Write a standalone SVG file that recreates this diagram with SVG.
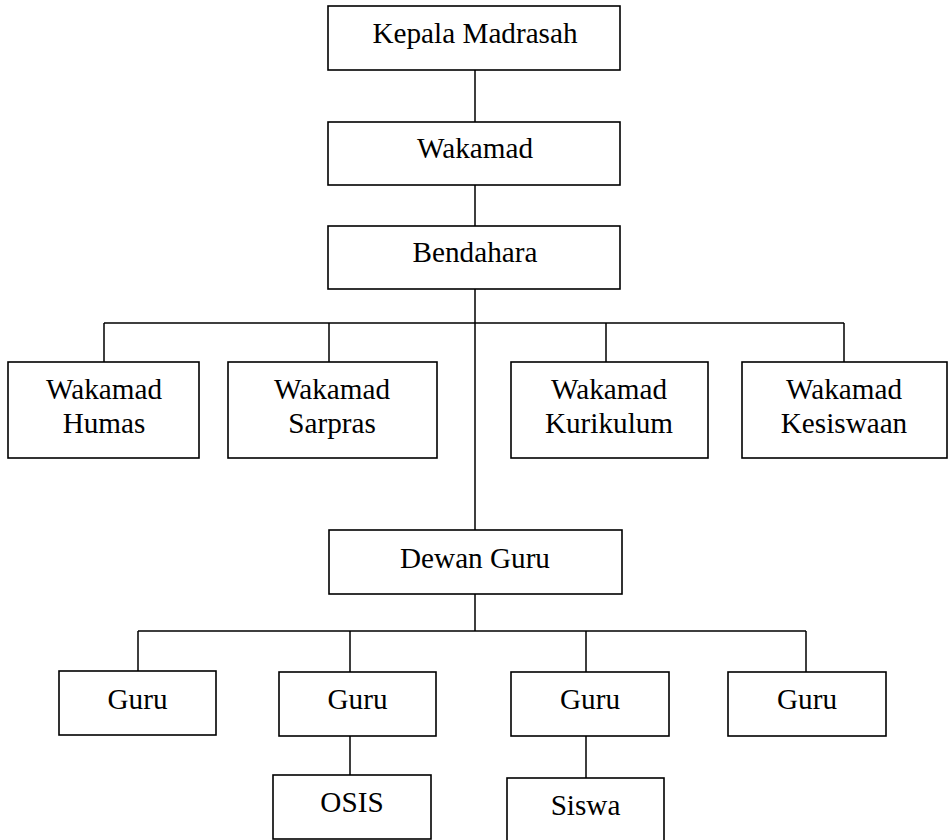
<svg xmlns="http://www.w3.org/2000/svg" width="949" height="840" viewBox="0 0 949 840">
<style>
rect{fill:#fff;stroke:#000;stroke-width:1.6}
text{font-family:"Liberation Serif","Times New Roman",serif;font-size:29.2px;fill:#000;text-anchor:middle}
#connectors path{fill:none;stroke:#000;stroke-width:1.5}
</style>
<rect x="0" y="0" width="949" height="840" style="stroke:none"/>
<g id="connectors">
<path d="M475 70V122M475 185V226M475 289V530"/>
<path d="M104 323H844M104 323V362M329 323V362M606 323V362M844 323V362"/>
<path d="M475 594V631M138 631H806M138 631V671M350 631V672M586 631V672M806 631V672"/>
<path d="M350 736V775M586 736V778"/>
</g>
<g id="kepala"><rect x="328" y="6" width="292" height="64"/><text x="475" y="43">Kepala Madrasah</text></g>
<g id="wakamad"><rect x="328" y="122" width="292" height="63"/><text x="475" y="158">Wakamad</text></g>
<g id="bendahara"><rect x="328" y="226" width="292" height="63"/><text x="475" y="262">Bendahara</text></g>
<g id="humas"><rect x="8" y="362" width="191" height="96"/><text x="104" y="399">Wakamad</text><text x="104" y="433">Humas</text></g>
<g id="sarpras"><rect x="228" y="362" width="209" height="96"/><text x="332" y="399">Wakamad</text><text x="332" y="433">Sarpras</text></g>
<g id="kurikulum"><rect x="511" y="362" width="197" height="96"/><text x="609" y="399">Wakamad</text><text x="609" y="433">Kurikulum</text></g>
<g id="kesiswaan"><rect x="742" y="362" width="205" height="96"/><text x="844" y="399">Wakamad</text><text x="844" y="433">Kesiswaan</text></g>
<g id="dewan"><rect x="329" y="530" width="293" height="64"/><text x="475" y="568">Dewan Guru</text></g>
<g id="guru1"><rect x="59" y="671" width="157" height="64"/><text x="137.5" y="709">Guru</text></g>
<g id="guru2"><rect x="279" y="672" width="157" height="64"/><text x="357.5" y="709">Guru</text></g>
<g id="guru3"><rect x="511" y="672" width="158" height="64"/><text x="590" y="709">Guru</text></g>
<g id="guru4"><rect x="728" y="672" width="158" height="64"/><text x="807" y="709">Guru</text></g>
<g id="osis"><rect x="273" y="775" width="158" height="64"/><text x="352" y="812">OSIS</text></g>
<g id="siswa"><rect x="507" y="778" width="157" height="64"/><text x="585.5" y="815">Siswa</text></g>
</svg>
